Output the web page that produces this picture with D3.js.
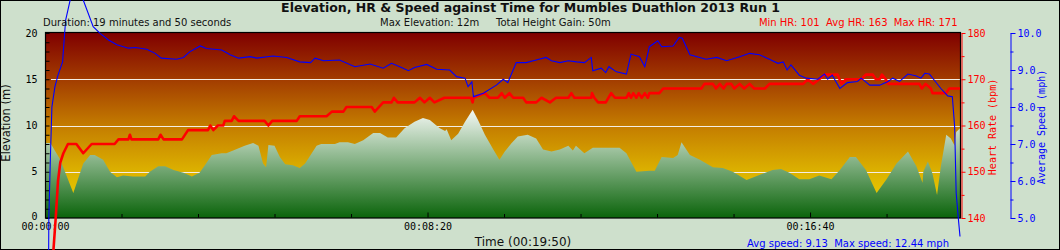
<!DOCTYPE html>
<html>
<head>
<meta charset="utf-8">
<script src="https://cdn.jsdelivr.net/npm/d3@7/dist/d3.min.js"></script>
<style>
  html, body { margin: 0; padding: 0; background: #cee0cc; }
  text { font-family: "DejaVu Sans", sans-serif; white-space: pre; }
  .tick text, .mono { font-family: "DejaVu Sans Mono", monospace; }
</style>
</head>
<body>
<div id="chartCont"></div>
<script>
// [seconds, metres]
const elevationData = [
  [0,8.1],[7,8.1],[20,6.3],[37,2.7],[50,5.9],[59,6.8],[65,6.8],[76,6.3],[85,5.0],[94,4.4],
  [102,4.6],[115,4.5],[131,4.5],[137,5.0],[148,5.6],[157,5.6],[168,5.2],[181,4.9],[192,4.5],[202,4.9],
  [209,5.7],[218,6.8],[231,7.0],[237,7.0],[246,7.3],[261,7.8],[272,8.1],[279,7.8],[285,5.9],[289,5.5],
  [292,7.9],[300,7.8],[307,6.6],[314,5.8],[324,5.7],[333,5.4],[340,5.9],[355,7.8],[361,8.0],[379,8.0],
  [385,8.2],[396,8.2],[405,8.0],[416,8.4],[429,9.2],[438,9.2],[448,8.7],[459,8.7],[470,9.7],[483,10.4],
  [494,10.8],[503,10.6],[516,9.7],[523,9.4],[525,9.6],[531,8.4],[540,9.1],[549,10.4],[559,11.7],[566,10.6],
  [575,9.0],[586,7.4],[594,6.3],[601,7.2],[610,8.1],[618,8.8],[631,9.0],[642,8.6],[651,7.4],[662,7.2],
  [673,7.4],[684,7.8],[690,7.3],[694,7.8],[705,7.0],[716,7.6],[751,7.6],[760,7.0],[773,5.0],[790,5.1],
  [797,5.1],[806,6.6],[821,6.5],[827,6.8],[832,8.2],[843,6.8],[856,6.3],[873,5.5],[886,5.4],[899,5.0],
  [917,4.1],[932,4.6],[951,5.2],[962,5.3],[973,4.9],[986,4.2],[999,4.2],[1012,4.6],[1028,4.2],[1039,5.2],
  [1052,6.6],[1060,6.6],[1073,5.2],[1087,2.7],[1100,4.2],[1113,5.9],[1128,7.2],[1139,5.6],[1147,3.8],[1148,5.0],
  [1154,6.1],[1160,4.8],[1166,2.5],[1171,5.6],[1178,9.0],[1184,8.6],[1189,7.8],[1191,9.3],[1196,9.7]
];

// [seconds, bpm]
const heartRateData = [
  [0,115],[11,133],[14,140],[17,148],[20,152],[24,154],[30,156],[41,156],[50,154],[61,156],
  [91,156],[96,157],[109,157],[111,158],[113,157],[148,157],[151,158],[155,157],[179,157],[187,159],
  [213,159],[216,160],[220,159],[226,160],[233,160],[235,161],[244,161],[247,162],[253,161],[287,161],
  [292,160],[297,161],[329,161],[333,162],[368,162],[375,163],[390,163],[394,164],[427,164],[431,163],
  [442,165],[453,165],[456,166],[461,165],[483,165],[490,166],[496,165],[503,166],[509,165],[522,166],
  [557,166],[559,165],[560,166],[575,167],[581,166],[592,166],[597,167],[601,166],[607,167],[612,166],
  [625,166],[629,165],[642,165],[649,166],[660,165],[668,166],[684,166],[688,167],[692,166],[714,166],
  [715,167],[718,166],[723,165],[733,165],[740,167],[745,166],[760,166],[763,167],[766,166],[769,167],
  [773,166],[776,167],[780,166],[784,167],[788,166],[790,167],[803,167],[808,168],[858,168],[862,169],
  [873,169],[877,168],[882,169],[887,168],[891,169],[897,169],[901,168],[908,169],[914,168],[921,169],
  [927,168],[941,168],[947,169],[991,169],[997,170],[1004,169],[1012,170],[1019,171],[1036,171],[1041,169],
  [1047,170],[1067,170],[1073,171],[1082,171],[1086,170],[1091,170],[1094,171],[1099,170],[1102,169],[1143,169],
  [1146,168],[1151,169],[1158,168],[1160,167],[1178,167],[1182,168],[1196,168]
];

// [seconds, mph]
const speedData = [
  [4,0.5],[5,5.0],[7,6.6],[9,8.0],[13,8.55],[17,8.86],[23,9.22],[25,9.81],[27,10.35],[33,10.9],
  [43,12.44],[50,10.89],[63,10.17],[72,9.99],[83,9.81],[94,9.68],[109,9.59],[118,9.61],[133,9.56],[144,9.45],
  [152,9.32],[172,9.29],[181,9.34],[189,9.49],[203,9.65],[211,9.58],[231,9.54],[242,9.41],[253,9.32],[268,9.36],
  [277,9.32],[298,9.38],[316,9.34],[333,9.22],[347,9.2],[353,9.32],[364,9.25],[385,9.27],[405,9.09],[425,9.16],
  [442,9.05],[453,9.18],[466,9.07],[475,8.98],[483,9.07],[499,9.15],[512,9.02],[529,9.0],[538,8.82],[549,8.78],
  [553,8.55],[558,8.68],[560,8.28],[573,8.37],[590,8.59],[599,8.75],[605,8.66],[616,9.2],[629,9.2],[642,9.27],
  [655,9.34],[662,9.25],[673,9.2],[684,9.25],[695,9.22],[705,9.2],[714,9.34],[716,8.98],[727,9.05],[733,8.93],
  [737,9.09],[747,8.95],[760,8.89],[766,9.43],[777,9.36],[784,9.09],[790,9.63],[801,9.79],[806,9.63],[821,9.65],
  [829,9.88],[833,9.86],[843,9.41],[864,9.29],[878,9.34],[891,9.25],[908,9.36],[921,9.45],[934,9.41],[949,9.27],
  [958,9.18],[965,9.22],[970,9.0],[975,9.14],[986,8.86],[995,8.78],[1010,8.75],[1019,8.89],[1023,8.75],[1029,8.86],
  [1039,8.5],[1049,8.66],[1062,8.69],[1067,8.78],[1078,8.59],[1091,8.59],[1102,8.69],[1108,8.78],[1117,8.69],[1128,8.89],
  [1139,8.84],[1145,8.78],[1150,8.91],[1156,8.89],[1163,8.71],[1171,8.5],[1180,8.3],[1186,8.28],[1189,7.47],[1191,5.67],
  [1194,4.95],[1196,4.5]
];

const timeMajorTicks = [0, 500, 1000];
const elevTicks = [0, 5, 10, 15, 20];
const hrTicks = [140, 150, 160, 170, 180];
const speedTicks = [5, 6, 7, 8, 9, 10];

const titleText = "Elevation, HR & Speed against Time for Mumbles Duathlon 2013 Run 1";
const durationText = "Duration: 19 minutes and 50 seconds";
const maxElevText = "Max Elevation: 12m";
const heightGainText = "Total Height Gain: 50m";
const hrStatsText = "Min HR: 101  Avg HR: 163  Max HR: 171";
const speedStatsText = "Avg speed: 9.13  Max speed: 12.44 mph";
const timeTitle = "Time (00:19:50)";

(function() {
  let width = 1060,
    height = 250;

  let left = 45, right = 960, top = 33, bottom = 218;

  let svg = d3.select("#chartCont")
    .append("svg")
    .attr("width", width)
    .attr("height", height)
    .style("display", "block");

  let x = d3.scaleLinear().domain([0, 1196]).range([left, right]);
  let yElev = d3.scaleLinear().domain([0, 20]).range([bottom, top]);
  let yHr = d3.scaleLinear().domain([140, 180]).range([bottom, top]);
  let ySpeed = d3.scaleLinear().domain([5, 10]).range([bottom, top]);

  let defs = svg.append("defs");

  // background of plot, dark red down to yellow
  let bg = defs.append("linearGradient")
    .attr("id", "bgGrad")
    .attr("x1", 0).attr("y1", 0).attr("x2", 0).attr("y2", 1);
  [[0, "#800000"], [0.25, "#a23c00"], [0.5, "#c47c00"], [0.75, "#dcb200"], [1, "#f0d800"]]
    .forEach(function(s) {
      bg.append("stop").attr("offset", s[0]).attr("stop-color", s[1]);
    });

  // elevation fill, pale at the highest point, dark green at 0
  let eg = defs.append("linearGradient")
    .attr("id", "elevGrad")
    .attr("gradientUnits", "userSpaceOnUse")
    .attr("x1", 0).attr("x2", 0)
    .attr("y1", yElev(d3.max(elevationData, d => d[1])))
    .attr("y2", bottom);
  eg.append("stop").attr("offset", 0).attr("stop-color", "#f4f8f4");
  eg.append("stop").attr("offset", 1).attr("stop-color", "#0a640a");

  // outer frame
  svg.append("rect")
    .attr("x", 0.5).attr("y", 0.5)
    .attr("width", width - 1).attr("height", height - 1)
    .attr("fill", "#cee0cc")
    .attr("stroke", "#000");

  svg.append("rect")
    .attr("x", left).attr("y", top)
    .attr("width", right - left).attr("height", bottom - top)
    .attr("fill", "url(#bgGrad)");

  // grid lines
  svg.selectAll(".grid")
    .data([5, 10, 15])
    .enter().append("line")
    .attr("class", "grid")
    .attr("x1", left + 6).attr("x2", right)
    .attr("y1", d => Math.round(yElev(d)) + 0.5)
    .attr("y2", d => Math.round(yElev(d)) + 0.5)
    .attr("stroke", "#f4eee4")
    .attr("stroke-width", 1);

  let area = d3.area()
    .x(d => x(d[0]))
    .y0(bottom)
    .y1(d => yElev(d[1]));

  svg.append("path")
    .datum(elevationData)
    .attr("d", area)
    .attr("fill", "url(#elevGrad)");

  // left axis, ticks point inwards
  let elevAxis = d3.axisLeft(yElev)
    .tickValues(d3.range(0, 21))
    .tickSizeInner(-4)
    .tickSizeOuter(0)
    .tickPadding(8)
    .tickFormat(d => elevTicks.indexOf(d) >= 0 ? d : "");
  let ga = svg.append("g")
    .attr("transform", "translate(" + (left + 0.5) + ",0)")
    .call(elevAxis);
  ga.select(".domain").remove();
  ga.selectAll("text").attr("font-size", 10).attr("fill", "#000");
  // the 0 sits a little higher so it clears the time label
  ga.selectAll("text").filter(d => d === 0).attr("dy", "0.1em");

  // time axis
  let fmt = d3.utcFormat("%H:%M:%S");
  let timeAxis = d3.axisBottom(x)
    .tickValues(timeMajorTicks)
    .tickSizeInner(-5)
    .tickSizeOuter(0)
    .tickPadding(5)
    .tickFormat(d => fmt(new Date(d * 1000)));
  let gt = svg.append("g")
    .attr("transform", "translate(0," + (bottom - 0.5) + ")")
    .call(timeAxis);
  gt.select(".domain").remove();
  gt.selectAll("text").attr("font-size", 10).attr("fill", "#000");

  let timeMinor = d3.axisBottom(x)
    .tickValues(d3.range(100, 1196, 100).filter(d => timeMajorTicks.indexOf(d) < 0))
    .tickSizeInner(-3.5)
    .tickSizeOuter(0)
    .tickFormat("");
  let gtm = svg.append("g")
    .attr("transform", "translate(0," + (bottom - 0.5) + ")")
    .call(timeMinor);
  gtm.select(".domain").remove();

  // plot border
  svg.append("rect")
    .attr("x", left + 0.5).attr("y", top - 0.5)
    .attr("width", right - left).attr("height", bottom - top + 0.5)
    .attr("fill", "none")
    .attr("stroke", "#000")
    .attr("stroke-width", 1.2);

  // heart rate axis
  let hrAxis = d3.axisRight(yHr)
    .tickValues(hrTicks)
    .tickSizeInner(4)
    .tickSizeOuter(0)
    .tickPadding(2);
  let gh = svg.append("g")
    .attr("transform", "translate(" + (right + 1.5) + ",0)")
    .call(hrAxis);
  gh.select(".domain").attr("stroke", "#ff0000");
  gh.selectAll("line").attr("stroke", "#ff0000");
  gh.selectAll("text").attr("font-size", 10).attr("fill", "#ff0000");
  let hrMinor = d3.axisRight(yHr)
    .tickValues([145, 155, 165, 175])
    .tickSizeInner(3)
    .tickSizeOuter(0)
    .tickFormat("");
  let ghm = svg.append("g")
    .attr("transform", "translate(" + (right + 1.5) + ",0)")
    .call(hrMinor);
  ghm.select(".domain").remove();
  ghm.selectAll("line").attr("stroke", "#ff0000");

  // speed axis
  let spAxis = d3.axisRight(ySpeed)
    .tickValues(speedTicks)
    .tickSizeInner(5)
    .tickSizeOuter(0)
    .tickPadding(2)
    .tickFormat(d3.format(".1f"));
  let gs = svg.append("g")
    .attr("transform", "translate(1010.5,0)")
    .call(spAxis);
  gs.select(".domain").attr("stroke", "#0000ff");
  gs.selectAll("line").attr("stroke", "#0000ff");
  gs.selectAll("text").attr("font-size", 10).attr("fill", "#0000ff");
  let spMinor = d3.axisRight(ySpeed)
    .tickValues([5.5, 6.5, 7.5, 8.5, 9.5])
    .tickSizeInner(3)
    .tickSizeOuter(0)
    .tickFormat("");
  let gsm = svg.append("g")
    .attr("transform", "translate(1010.5,0)")
    .call(spMinor);
  gsm.select(".domain").remove();
  gsm.selectAll("line").attr("stroke", "#0000ff");

  // heart rate line
  let hrLine = d3.line()
    .x(d => x(d[0]))
    .y(d => yHr(d[1]));
  svg.append("path")
    .datum(heartRateData)
    .attr("d", hrLine)
    .attr("fill", "none")
    .attr("stroke", "#ff0000")
    .attr("stroke-width", 2.6)
    .attr("stroke-linejoin", "round");

  // speed line
  let spLine = d3.line()
    .x(d => x(d[0]))
    .y(d => ySpeed(d[1]));
  svg.append("path")
    .datum(speedData)
    .attr("d", spLine)
    .attr("fill", "none")
    .attr("stroke", "#0000ff")
    .attr("stroke-width", 1.1);

  // texts
  svg.append("text")
    .attr("x", 530.5).attr("y", 12)
    .attr("text-anchor", "middle")
    .attr("font-size", 12.5)
    .attr("font-weight", "bold")
    .attr("fill", "#111")
    .text(titleText);

  svg.append("text").attr("x", 43).attr("y", 26)
    .attr("font-size", 10).attr("fill", "#111").text(durationText);
  svg.append("text").attr("x", 380).attr("y", 26)
    .attr("font-size", 10).attr("fill", "#111").text(maxElevText);
  svg.append("text").attr("x", 496).attr("y", 26)
    .attr("font-size", 10).attr("fill", "#111").text(heightGainText);
  svg.append("text").attr("x", 957.5).attr("y", 26)
    .attr("text-anchor", "end")
    .attr("font-size", 10).attr("fill", "#ff0000").text(hrStatsText);

  svg.append("text").attr("x", 523).attr("y", 246)
    .attr("text-anchor", "middle")
    .attr("font-size", 12).attr("fill", "#111").text(timeTitle);
  svg.append("text").attr("x", 949).attr("y", 246.5)
    .attr("text-anchor", "end")
    .attr("font-size", 10).attr("fill", "#0000ff").text(speedStatsText);

  svg.append("text")
    .attr("transform", "translate(10,123) rotate(-90)")
    .attr("text-anchor", "middle")
    .attr("font-size", 11.5).attr("fill", "#111")
    .text("Elevation (m)");
  svg.append("text")
    .attr("class", "mono")
    .attr("transform", "translate(995.5,127) rotate(-90)")
    .attr("text-anchor", "middle")
    .attr("font-size", 10).attr("fill", "#ff0000")
    .text("Heart Rate (bpm)");
  svg.append("text")
    .attr("class", "mono")
    .attr("transform", "translate(1045,127) rotate(-90)")
    .attr("text-anchor", "middle")
    .attr("font-size", 10).attr("fill", "#0000ff")
    .text("Average Speed (mph)");
})();
</script>
</body>
</html>
